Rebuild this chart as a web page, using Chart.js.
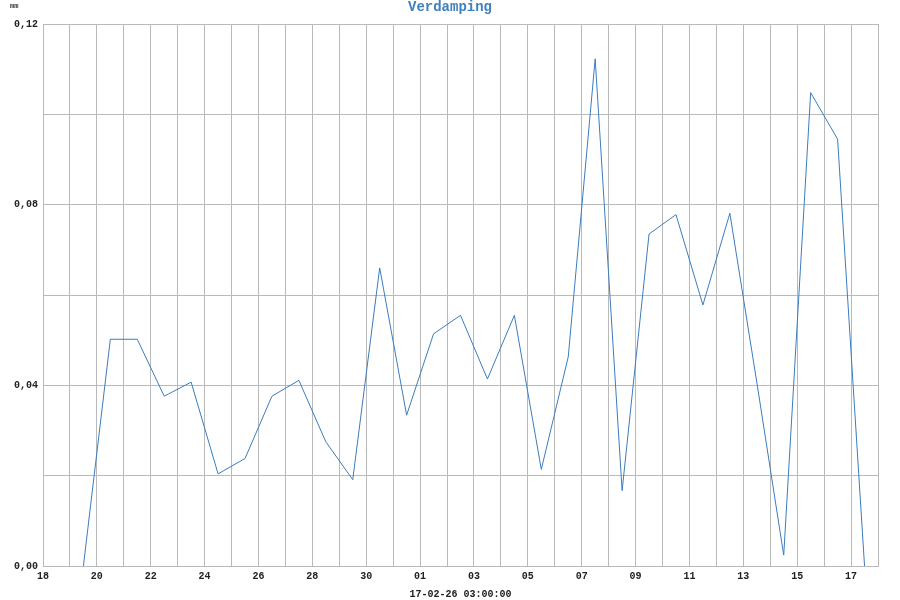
<!DOCTYPE html>
<html>
<head>
<meta charset="utf-8">
<script src="https://cdn.jsdelivr.net/npm/chart.js@4"></script>
<style>
  html, body { margin: 0; padding: 0; background: #fff; }
  #wrap { width: 900px; height: 600px; }
</style>
</head>
<body>
<div id="wrap"><canvas id="verdampingChart" width="900" height="600"></canvas></div>
<script>
// Daily evaporation (mm), measured at noon
const dates = [
    '2026-01-19T12:00', '2026-01-20T12:00', '2026-01-21T12:00', '2026-01-22T12:00',
    '2026-01-23T12:00', '2026-01-24T12:00', '2026-01-25T12:00', '2026-01-26T12:00',
    '2026-01-27T12:00', '2026-01-28T12:00', '2026-01-29T12:00', '2026-01-30T12:00',
    '2026-01-31T12:00', '2026-02-01T12:00', '2026-02-02T12:00', '2026-02-03T12:00',
    '2026-02-04T12:00', '2026-02-05T12:00', '2026-02-06T12:00', '2026-02-07T12:00',
    '2026-02-08T12:00', '2026-02-09T12:00', '2026-02-10T12:00', '2026-02-11T12:00',
    '2026-02-12T12:00', '2026-02-13T12:00', '2026-02-14T12:00', '2026-02-15T12:00',
    '2026-02-16T12:00', '2026-02-17T12:00'
];
const verdamping = [
    0.0000, 0.0502, 0.0502, 0.0376,
    0.0407, 0.0204, 0.0238, 0.0376,
    0.0411, 0.0275, 0.0191, 0.0660,
    0.0334, 0.0514, 0.0555, 0.0414,
    0.0555, 0.0214, 0.0463, 0.1123,
    0.0167, 0.0735, 0.0778, 0.0578,
    0.0781, 0.0407, 0.0024, 0.1048,
    0.0945, 0.0000
];
const startDate = '2026-01-18T00:00';
const endDate = '2026-02-18T00:00';
const yTicks = [0, 0.04, 0.08, 0.12];

const DAY = 24 * 3600 * 1000;
function toDays(s) {
    return (new Date(s + 'Z') - new Date(startDate + 'Z')) / DAY;
}

const points = dates.map(function(d, i) {
    return { x: toDays(d), y: verdamping[i] };
});

const FONT = "'Liberation Mono', 'DejaVu Sans Mono', monospace";
const gridColor = '#b9b9b9';

// "mm" unit label and centered title above the plot
const headerPlugin = {
    id: 'header',
    afterDraw(chart) {
        const ctx = chart.ctx;
        ctx.save();
        ctx.fillStyle = '#333';
        ctx.font = 'bold 7px ' + FONT;
        ctx.textAlign = 'left';
        ctx.textBaseline = 'middle';
        ctx.fillText('mm', 10, 6);
        ctx.fillStyle = '#3f80bf';
        ctx.font = 'bold 14px ' + FONT;
        ctx.textAlign = 'center';
        ctx.fillText('Verdamping', chart.width / 2, 7);
        ctx.restore();
    }
};

new Chart(document.getElementById('verdampingChart').getContext('2d'), {
    type: 'line',
    data: {
        datasets: [{
            label: 'Verdamping',
            data: points,
            borderColor: '#3a7dbf',
            borderWidth: 1,
            pointRadius: 0,
            tension: 0,
            fill: false
        }]
    },
    options: {
        responsive: false,
        animation: false,
        layout: { padding: { top: 24, right: 22, left: 0, bottom: 0 } },
        plugins: {
            legend: { display: false },
            title: { display: false },
            tooltip: { enabled: false }
        },
        scales: {
            x: {
                type: 'linear',
                min: 0,
                max: toDays(endDate),
                grid: { color: gridColor, lineWidth: 1, drawTicks: false },
                border: { color: gridColor, width: 1 },
                ticks: {
                    stepSize: 1,
                    autoSkip: false,
                    maxRotation: 0,
                    padding: 4,
                    color: '#222',
                    font: { family: FONT, size: 10, weight: 'bold' },
                    callback: function(v) {
                        if (v % 2 !== 0) return '';
                        const d = new Date(new Date(startDate + 'Z').getTime() + v * DAY);
                        return String(d.getUTCDate()).padStart(2, '0');
                    }
                },
                title: {
                    display: true,
                    text: '17-02-26 03:00:00',
                    color: '#222',
                    font: { family: FONT, size: 10, weight: 'bold' },
                    padding: { top: 0, bottom: 0 }
                },
                afterFit: function(scale) { scale.height = 34; }
            },
            y: {
                min: 0,
                max: 0.12,
                grid: { color: gridColor, lineWidth: 1, drawTicks: false },
                border: { color: gridColor, width: 1 },
                ticks: {
                    stepSize: 0.02,
                    padding: 5,
                    color: '#222',
                    font: { family: FONT, size: 10, weight: 'bold' },
                    callback: function(v) {
                        const r = Math.round(v * 100) / 100;
                        return yTicks.some(t => Math.abs(t - r) < 1e-9) ? r.toFixed(2).replace('.', ',') : '';
                    }
                },
                afterFit: function(scale) { scale.width = 43; }
            }
        }
    },
    plugins: [headerPlugin]
});
</script>
</body>
</html>
